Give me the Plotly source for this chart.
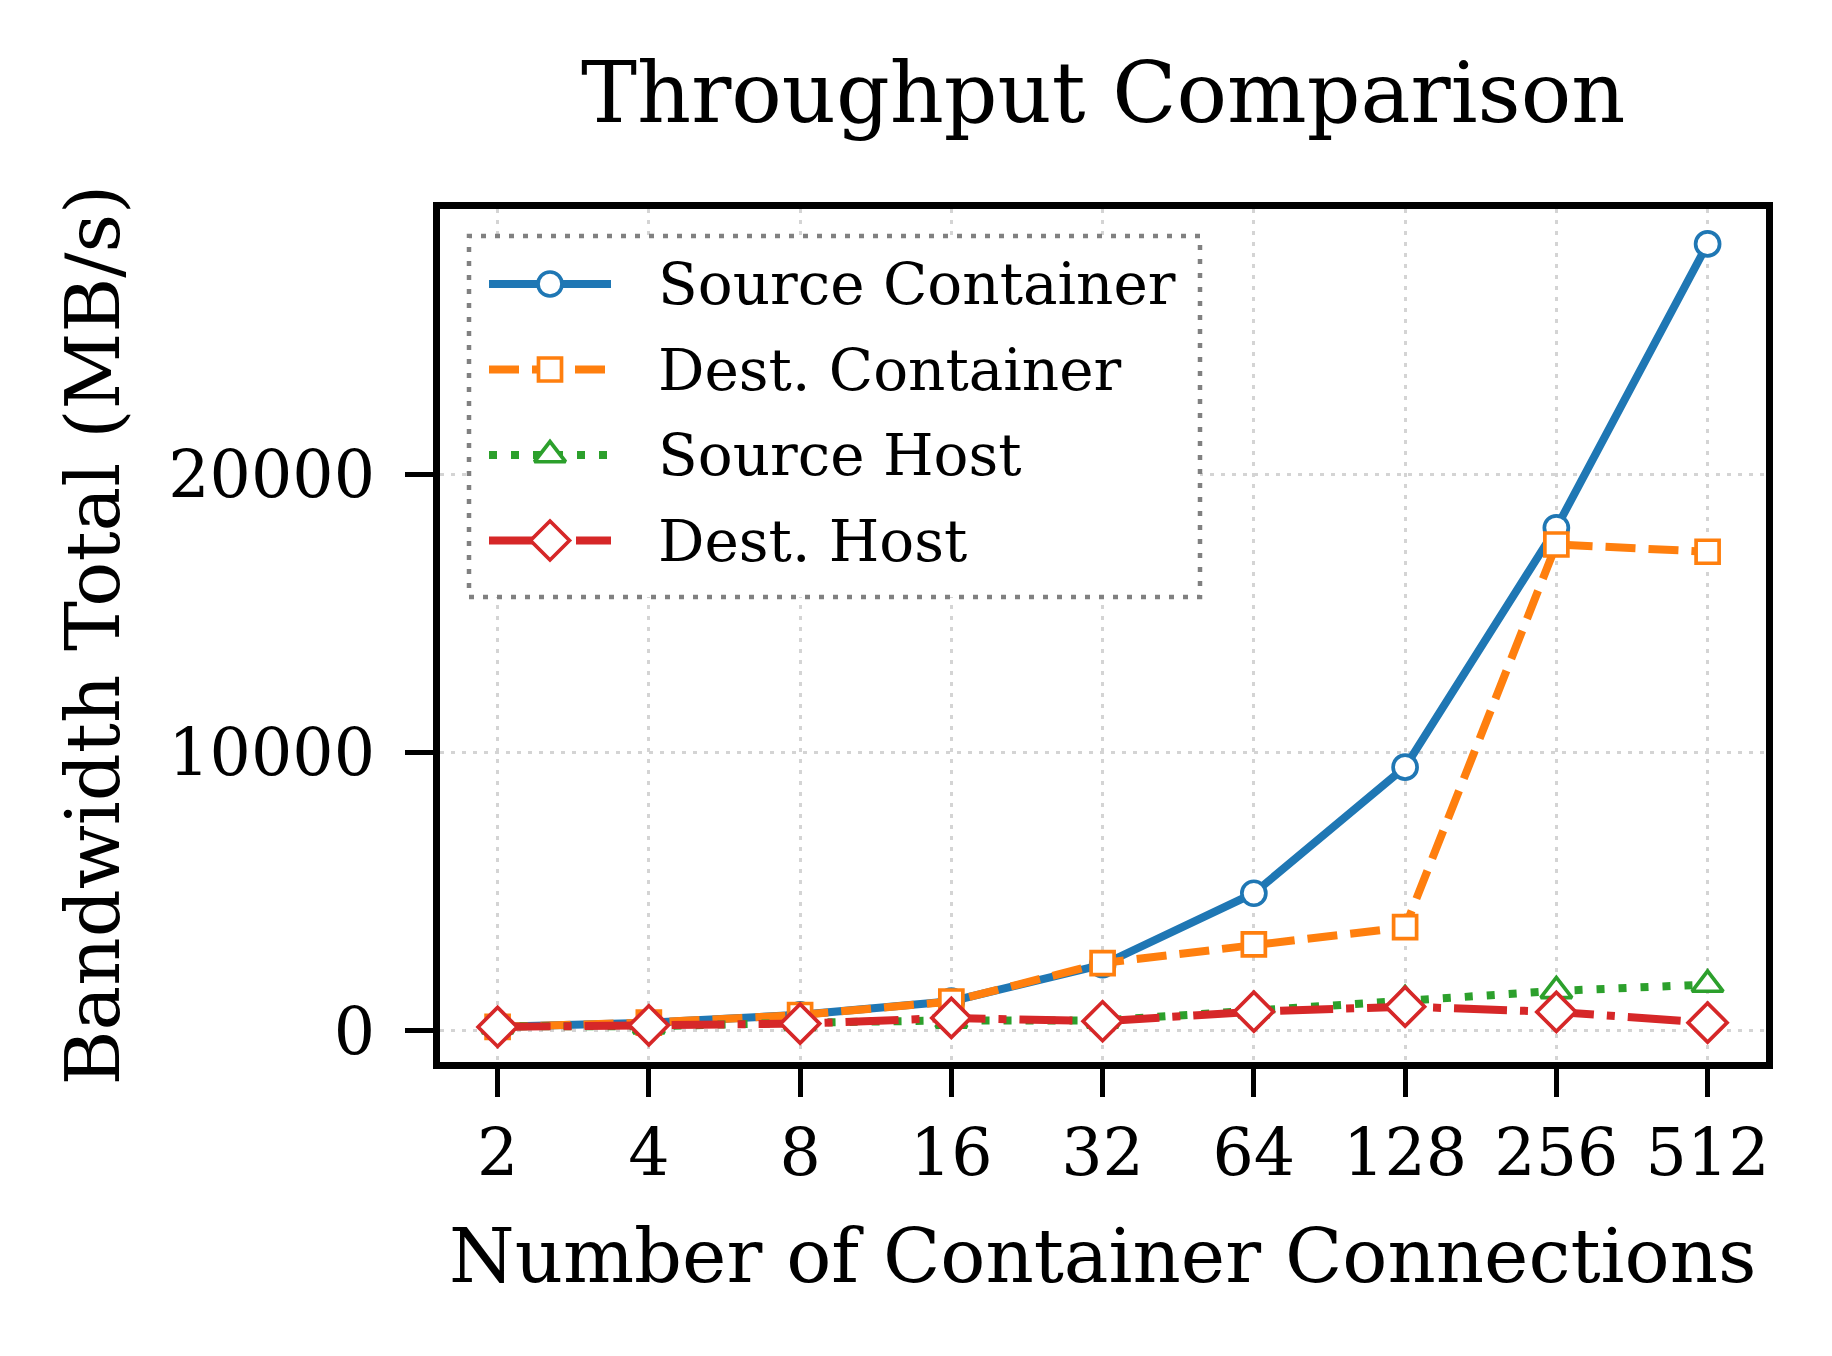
import plotly.graph_objects as go

# ---------------- data ----------------
connections = [2, 4, 8, 16, 32, 64, 128, 256, 512]
connection_labels = ["2", "4", "8", "16", "32", "64", "128", "256", "512"]
source_container = [150, 300, 580, 1070, 2380, 4950, 9480, 18080, 28280]
dest_container = [150, 300, 575, 1060, 2440, 3115, 3730, 17480, 17220]
source_host = [170, 170, 300, 380, 380, 750, 1110, 1440, 1670]
dest_host = [145, 205, 265, 470, 350, 695, 875, 685, 300]
series_names = ["Source Container", "Dest. Container", "Source Host", "Dest. Host"]
y_ticks = [0, 10000, 20000]

# ---------------- styles ----------------
FONT = "DejaVu Serif"
W, H = 1832, 1356
L, R, T, B = 440, 66, 209, 294
PW, PH = W - L - R, H - T - B
X_RANGE = [0.1864, 2.8255]   # log10 range of x axis
Y_RANGE = [-1114, 29534]

colors = ["#1f77b4", "#ff7f0e", "#2ca02c", "#d62728"]
dashes = ["solid", "30px,13px", "8px,14px", "53px,13px,8px,13px"]
symbols = ["circle", "square", "triangle-up", "diamond"]
msizes = [24, 23, 27, 30]
LW = 8
MLW = 3.7


def xp(px):
    return (px - L) / PW


def yp(py):
    return (H - B - py) / PH


def x_val_at(px):
    return 10 ** (X_RANGE[0] + xp(px) * (X_RANGE[1] - X_RANGE[0]))


def y_val_at(py):
    return Y_RANGE[0] + yp(py) * (Y_RANGE[1] - Y_RANGE[0])


series = [source_container, dest_container, source_host, dest_host]

fig = go.Figure()
# legend frame (white box with dotted grey border, between grid and traces)
fig.add_shape(
    type="rect", xref="x", yref="y",
    x0=x_val_at(469), x1=x_val_at(1200), y0=y_val_at(597), y1=y_val_at(236),
    line=dict(color="#808080", width=4.5, dash="5px,9px"), fillcolor="white",
    layer="between",
)

for name, vals, c, d, s, ms in zip(series_names, series, colors, dashes, symbols, msizes):
    fig.add_trace(go.Scatter(
        x=connections, y=vals, name=name, mode="lines+markers",
        line=dict(color=c, width=LW, dash=d),
        marker=dict(symbol=s, size=ms, color="white", line=dict(color=c, width=MLW)),
        showlegend=False, cliponaxis=False,
    ))

# ---------------- custom legend (matplotlib-like) ----------------
leg_rows = [284, 369.5, 455, 540.5]
line_x0, line_x1, mark_x, text_x = 489, 611, 550, 656
for i, (name, c, d, s, ms) in enumerate(zip(series_names, colors, dashes, symbols, msizes)):
    ry = leg_rows[i]
    fig.add_trace(go.Scatter(
        x=[line_x0, line_x1], y=[ry, ry], mode="lines", xaxis="x2", yaxis="y2",
        line=dict(color=c, width=LW, dash=d), showlegend=False, hoverinfo="skip",
    ))
    fig.add_trace(go.Scatter(
        x=[mark_x], y=[ry], mode="markers", xaxis="x2", yaxis="y2",
        marker=dict(symbol=s, size=ms, color="white", line=dict(color=c, width=MLW)),
        showlegend=False, hoverinfo="skip",
    ))
    fig.add_annotation(
        x=text_x, y=ry, xref="x2", yref="y2", text=name, showarrow=False,
        xanchor="left", yanchor="middle", font=dict(family=FONT, size=58, color="black"),
    )

# ---------------- titles ----------------
fig.add_annotation(
    x=0.5, y=yp(93), xref="paper", yref="paper", text="Throughput Comparison",
    showarrow=False, xanchor="center", yanchor="middle",
    font=dict(family=FONT, size=84, color="black"),
)
fig.add_annotation(
    x=0.5, y=yp(1256), xref="paper", yref="paper", text="Number of Container Connections",
    showarrow=False, xanchor="center", yanchor="middle",
    font=dict(family=FONT, size=75, color="black"),
)
fig.add_annotation(
    x=xp(92), y=0.5, xref="paper", yref="paper", text="Bandwidth Total (MB/s)",
    showarrow=False, xanchor="center", yanchor="middle", textangle=-90,
    font=dict(family=FONT, size=75, color="black"),
)

axis_common = dict(
    ticks="outside", ticklen=28, tickwidth=5, tickcolor="black",
    showline=True, linewidth=7, linecolor="black", mirror=True,
    showgrid=True, gridcolor="#d4d4d4", gridwidth=3, griddash="4px,7px",
    zeroline=False, tickfont=dict(family=FONT, size=65, color="black"),
)

fig.update_layout(
    width=W, height=H,
    margin=dict(l=L, r=R, t=T, b=B, pad=0),
    paper_bgcolor="white", plot_bgcolor="white",
    showlegend=False,
    xaxis=dict(type="log", range=X_RANGE, tickvals=connections,
               ticktext=connection_labels, ticklabelstandoff=0, **axis_common),
    yaxis=dict(range=Y_RANGE, tickvals=y_ticks,
               ticktext=[str(v) for v in y_ticks], ticklabelstandoff=17, **axis_common),
    xaxis2=dict(overlaying="x", anchor="y2", range=[L, L + PW], visible=False, fixedrange=True),
    yaxis2=dict(overlaying="y", anchor="x2", range=[H - B, T], visible=False, fixedrange=True),
)

fig.write_html("out.html")
